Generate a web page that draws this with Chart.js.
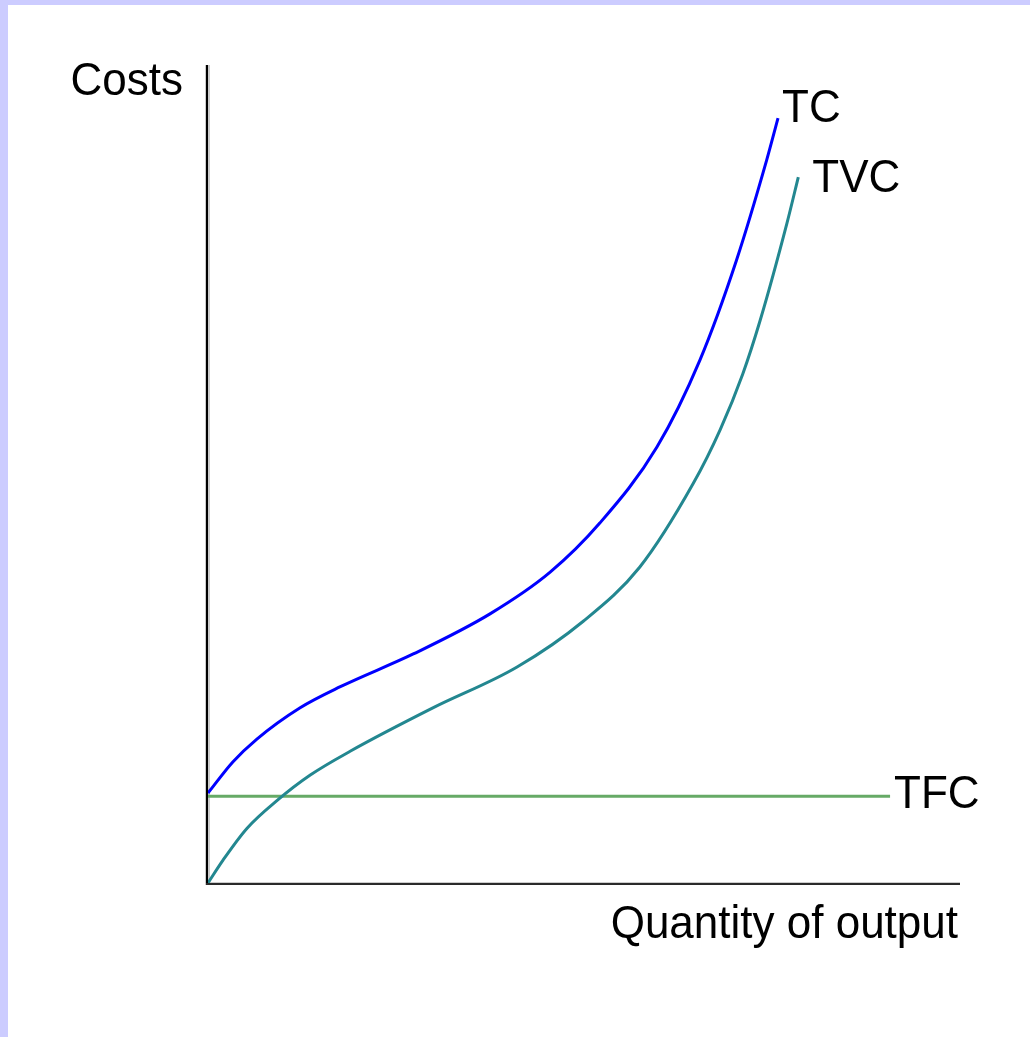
<!DOCTYPE html>
<html>
<head>
<meta charset="utf-8">
<title>Costs</title>
<script src="https://cdn.jsdelivr.net/npm/chart.js@4.4.1/dist/chart.umd.min.js"></script>
<style>
  html, body { margin: 0; padding: 0; background: #fff; }
  .frame {
    width: 1030px;
    height: 1037px;
    box-sizing: border-box;
    border-left: 8px solid #ccccff;
    border-top: 5px solid #ccccff;
    background: #fff;
  }
  .wrap { position: relative; width: 1022px; height: 1032px; }
</style>
</head>
<body>
<div class="frame"><div class="wrap"><canvas id="c"></canvas></div></div>
<script>
// output (0-100) and cost (0-100)
const tcX = [0, 3.3, 6.5, 12.2, 17.6, 27.3, 37.5, 45.5, 52.1, 59.7, 65.4, 70.3, 74.3, 75.8];
const tcY = [11.0, 14.8, 17.6, 21.4, 24.0, 28.0, 32.9, 38.0, 44.0, 53.3, 63.9, 76.2, 88.4, 93.5];

const tvcX = [0, 2.0, 5.2, 9.2, 13.6, 18.9, 29.9, 41.1, 49.9, 57.4, 64.5, 68.1, 71.1, 73.4, 77.0, 78.5];
const tvcY = [0, 2.8, 6.7, 10.1, 13.2, 16.1, 21.4, 26.4, 32.0, 38.6, 48.8, 55.4, 62.2, 68.7, 80.7, 86.3];

const tfcX = [0, 90.7];
const tfcY = [10.6, 10.6];

const xTitle = 'Quantity of output';
const yTitle = 'Costs';

const pts = (xs, ys) => xs.map((x, i) => ({ x: x, y: ys[i] }));

const FONT = '44px "Liberation Sans", Arial, sans-serif';

function stretchText(ctx, text, x, y, align) {
  ctx.save();
  ctx.font = FONT;
  ctx.fillStyle = '#000';
  ctx.textAlign = align || 'left';
  ctx.textBaseline = 'alphabetic';
  ctx.translate(x, y);
  ctx.scale(1, 1.07);
  ctx.fillText(text, 0, 0);
  ctx.restore();
}

// axes drawn under the curves
const axesPlugin = {
  id: 'axesPlugin',
  beforeDatasetsDraw(chart) {
    const ctx = chart.ctx;
    const xs = chart.scales.x, ys = chart.scales.y;
    const x0 = xs.getPixelForValue(0);
    const y0 = ys.getPixelForValue(0);
    const top = ys.getPixelForValue(100);
    const right = xs.getPixelForValue(100);
    ctx.save();
    ctx.fillStyle = '#cccccc';
    ctx.fillRect(x0 - 3, top, 5, y0 - top + 2);
    ctx.fillRect(x0 - 2, y0 - 1, right - x0 + 2, 1);
    ctx.fillStyle = '#000';
    ctx.fillRect(x0 - 2, top, 2, y0 - top + 2);
    ctx.fillStyle = '#2a2a2a';
    ctx.fillRect(x0 - 2, y0, right - x0 + 2, 2);
    ctx.restore();
  }
};

// curve labels at line ends, axis titles
const labelPlugin = {
  id: 'labelPlugin',
  afterDatasetsDraw(chart) {
    const xs = chart.scales.x, ys = chart.scales.y;
    const ctx = chart.ctx;
    const ends = [
      { t: 'TC', x: tcX[tcX.length - 1], y: tcY[tcY.length - 1], dx: 4, dy: 4 },
      { t: 'TVC', x: tvcX[tvcX.length - 1], y: tvcY[tvcY.length - 1], dx: 14, dy: 15 },
      { t: 'TFC', x: tfcX[tfcX.length - 1], y: tfcY[tfcY.length - 1], dx: 4, dy: 12 }
    ];
    ends.forEach(e => {
      stretchText(ctx, e.t, xs.getPixelForValue(e.x) + e.dx, ys.getPixelForValue(e.y) + e.dy);
    });
    const area = chart.chartArea;
    stretchText(ctx, yTitle, area.left - 25, area.top + 30, 'right');
    stretchText(ctx, xTitle, area.right - 2, area.bottom + 55, 'right');
  }
};

new Chart(document.getElementById('c'), {
  type: 'line',
  data: {
    datasets: [
      {
        label: 'TC',
        data: pts(tcX, tcY),
        borderColor: '#0000ff',
        borderWidth: 3,
        cubicInterpolationMode: 'monotone'
      },
      {
        label: 'TVC',
        data: pts(tvcX, tvcY),
        borderColor: '#238790',
        borderWidth: 3,
        cubicInterpolationMode: 'monotone'
      },
      {
        label: 'TFC',
        data: pts(tfcX, tfcY),
        borderColor: '#66aa66',
        borderWidth: 3
      }
    ]
  },
  options: {
    responsive: true,
    maintainAspectRatio: false,
    animation: false,
    events: [],
    elements: { point: { radius: 0 } },
    layout: { padding: { left: 200, top: 60, right: 70, bottom: 154 } },
    plugins: {
      legend: { display: false },
      tooltip: { enabled: false }
    },
    scales: {
      x: { type: 'linear', min: 0, max: 100, display: false },
      y: { type: 'linear', min: 0, max: 100, display: false }
    }
  },
  plugins: [axesPlugin, labelPlugin]
});
</script>
</body>
</html>
